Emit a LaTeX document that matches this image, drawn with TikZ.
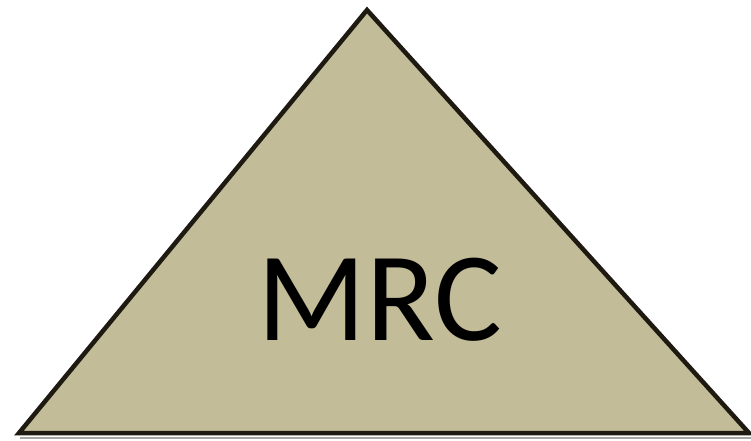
\documentclass[tikz,border=0pt]{standalone}
\usepackage{fontspec}
\setmainfont{Carlito}
\definecolor{tri}{HTML}{C3BC98}
\definecolor{edge}{HTML}{1E1A12}
\begin{document}
\begin{tikzpicture}[x=1pt,y=-1pt,
  trishape/.style={fill=tri,draw=edge,line width=4.5pt,line join=miter},
  lbl/.style={font=\fontsize{127}{127}\selectfont,text=black,inner sep=0pt,anchor=base}]
\useasboundingbox (0,0) rectangle (751,440);
\draw[gray!70,line width=2pt] (20,438) -- (751,438);
\coordinate (apex) at (367,10);
\coordinate (bl) at (19,433);
\coordinate (br) at (749,433);
\draw[trishape] (apex) -- (bl) -- (br) -- cycle;
\node[lbl] (mrc) at (380,340) {MRC};
\end{tikzpicture}
\end{document}
